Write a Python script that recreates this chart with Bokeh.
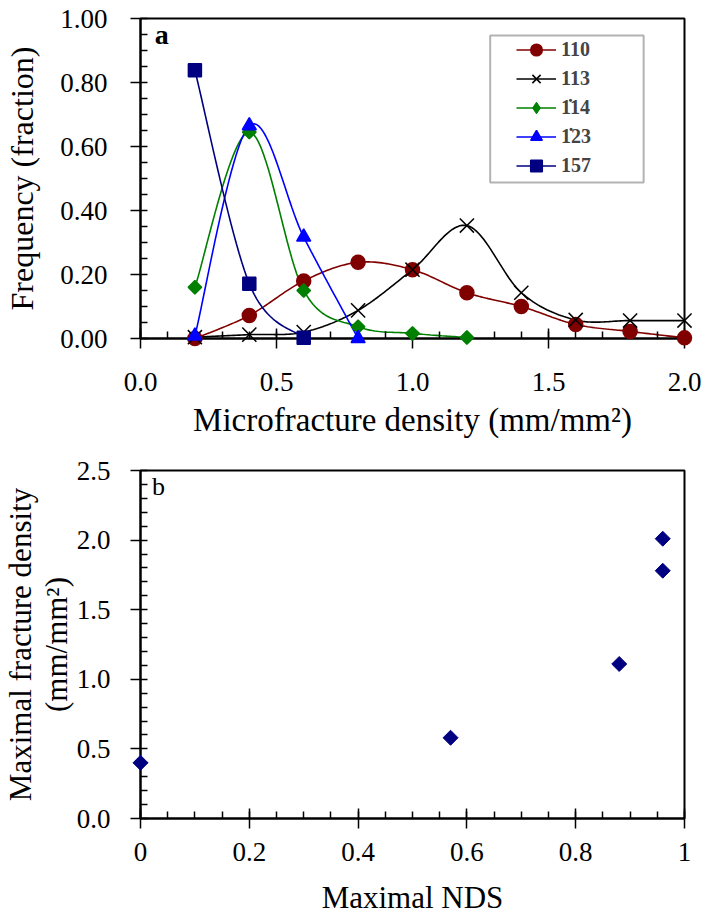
import numpy as np
from bokeh.plotting import figure
from bokeh.models import (FixedTicker, Legend, LegendItem, Label, Range1d,
                          BoxAnnotation)
from bokeh.layouts import column
from bokeh.embed import file_html
from bokeh.resources import INLINE

# ---------------- data: panel a ----------------
density = [0.2, 0.4, 0.6, 0.8, 1.0, 1.2, 1.4, 1.6, 1.8, 2.0]
freq_110 = [0.000, 0.072, 0.180, 0.238, 0.215, 0.143, 0.100, 0.044, 0.022, 0.002]
freq_113 = [0.004, 0.012, 0.020, 0.088, 0.215, 0.353, 0.143, 0.058, 0.056, 0.056]
density_114 = [0.2, 0.4, 0.6, 0.8, 1.0, 1.2]
freq_114 = [0.160, 0.645, 0.150, 0.037, 0.016, 0.003]
density_123 = [0.2, 0.4, 0.6, 0.8]
freq_123 = [0.008, 0.665, 0.317, 0.000]
density_157 = [0.2, 0.4, 0.6]
freq_157 = [0.838, 0.171, 0.002]
series_labels = ["110", "113", "1\u030714", "1\u030723", "157"]

# ---------------- data: panel b ----------------
max_nds = [0.00, 0.57, 0.88, 0.96, 0.96]
max_density = [0.40, 0.58, 1.11, 1.78, 2.01]

# ---------------- ticks ----------------
a_xticks = [0.0, 0.5, 1.0, 1.5, 2.0]
a_xlabels = ["0.0", "0.5", "1.0", "1.5", "2.0"]
a_yticks = [0.0, 0.2, 0.4, 0.6, 0.8, 1.0]
a_ylabels = ["0.00", "0.20", "0.40", "0.60", "0.80", "1.00"]
b_xticks = [0.0, 0.2, 0.4, 0.6, 0.8, 1.0]
b_xlabels = ["0", "0.2", "0.4", "0.6", "0.8", "1"]
b_yticks = [0.0, 0.5, 1.0, 1.5, 2.0, 2.5]
b_ylabels = ["0.0", "0.5", "1.0", "1.5", "2.0", "2.5"]

FONT = "Liberation Serif"


def minor(lo, hi, step):
    return [round(v, 4) for v in np.arange(lo, hi + step / 2, step)]


def smooth(xs, ys, n=24):
    """Catmull-Rom style Bezier smoothing through the data points."""
    P = np.column_stack([xs, ys]).astype(float)
    out = [P[0]]
    for i in range(len(P) - 1):
        p0 = P[i - 1] if i > 0 else P[i]
        p1, p2 = P[i], P[i + 1]
        p3 = P[i + 2] if i + 2 < len(P) else P[i + 1]
        c1 = p1 + (p2 - p0) / 6.0
        c2 = p2 - (p3 - p1) / 6.0
        t = np.linspace(0, 1, n)[1:, None]
        seg = ((1 - t) ** 3) * p1 + 3 * ((1 - t) ** 2) * t * c1 + 3 * (1 - t) * t ** 2 * c2 + t ** 3 * p2
        out.extend(seg)
    out = np.array(out)
    return out[:, 0], out[:, 1]


def style_axes(p, xt, xl, xminor, yt, yl, yminor, title_px):
    p.xaxis.ticker = FixedTicker(ticks=xt, minor_ticks=xminor)
    p.yaxis.ticker = FixedTicker(ticks=yt, minor_ticks=yminor)
    p.xaxis.major_label_overrides = {t: s for t, s in zip(xt, xl)}
    p.yaxis.major_label_overrides = {t: s for t, s in zip(yt, yl)}
    for ax in (p.xaxis, p.yaxis):
        ax.axis_line_width = 2
        ax.axis_line_color = "black"
        ax.major_tick_line_width = 1.5
        ax.minor_tick_line_width = 1.5
        ax.major_tick_line_color = "black"
        ax.minor_tick_line_color = "black"
        ax.major_label_text_font = FONT
        ax.major_label_text_font_size = "27px"
        ax.major_label_text_color = "black"
        ax.axis_label_text_font = FONT
        ax.axis_label_text_font_size = title_px
        ax.axis_label_text_font_style = "normal"
        ax.axis_label_text_color = "black"
        ax.minor_tick_in = 7
        ax.minor_tick_out = 0
    p.xaxis.major_tick_in = 10
    p.xaxis.major_tick_out = 10
    p.yaxis.major_tick_in = 0
    p.yaxis.major_tick_out = 10
    p.xgrid.visible = False
    p.ygrid.visible = False
    p.outline_line_color = "black"
    p.outline_line_width = 2
    p.background_fill_color = "white"
    p.border_fill_color = "white"


# ---------------- panel a ----------------
pa = figure(width=702, height=456, output_backend="svg", toolbar_location=None,
            x_range=Range1d(0, 2.0), y_range=Range1d(0, 1.0),
            min_border_left=138, min_border_right=18, min_border_top=18, min_border_bottom=118)
style_axes(pa, a_xticks, a_xlabels, minor(0, 2.0, 0.1), a_yticks, a_ylabels,
           minor(0, 1.0, 0.05), "32px")
pa.xaxis.axis_label = "Microfracture density (mm/mm\u00b2)"
pa.xaxis.axis_label_text_font_size = "33px"
pa.yaxis.axis_label = "Frequency (fraction)"
pa.xaxis.major_label_standoff = 24
pa.xaxis.axis_label_standoff = 8
pa.yaxis.major_label_standoff = 23
pa.yaxis.axis_label_standoff = 17

specs = [
    (density, freq_110, "#800000", "circle", 14, "circle"),
    (density, freq_113, "black", "x", 20, "x"),
    (density_114, freq_114, "#008000", "square", 9.5, "diamond"),
    (density_123, freq_123, "#0000ff", "triangle", 14, "triangle"),
    (density_157, freq_157, "#000080", "square", 13, "square"),
]
items = []
for (xs, ys, col, mk, sz, legend_mk), lab in zip(specs, series_labels):
    sx, sy = smooth(xs, ys)
    lr = pa.line(sx, sy, line_color=col, line_width=1.6)
    ang = np.pi / 4 if legend_mk == "diamond" else 0.0
    sr = pa.scatter(xs, ys, marker=mk, size=sz, angle=ang, fill_color=col, line_color=col,
                    line_width=1.5, level="overlay")
    if legend_mk == mk:
        items.append(LegendItem(label=lab, renderers=[lr, sr]))
    else:
        # key-only glyph (not drawn in the plot) so the legend shows a diamond
        kr = pa.scatter([np.nan], [np.nan], marker=legend_mk, size=sz, fill_color=col,
                        line_color=col)
        items.append(LegendItem(label=lab, renderers=[lr, kr]))

legend = Legend(items=items, location=(376, 158), padding=0, spacing=0,
                glyph_width=40, glyph_height=29, label_height=20, label_standoff=5,
                label_text_font=FONT, label_text_font_size="20px", label_text_font_style="bold",
                background_fill_alpha=0, border_line_alpha=0)
pa.add_layout(legend)
pa.add_layout(BoxAnnotation(left=1.2857, right=1.8498, top=0.947, bottom=0.4875,
                            fill_alpha=0, line_color="black", line_width=2))
pa.add_layout(Label(x=0.052, y=0.903, text="a", text_font=FONT, text_font_size="28px",
                    text_font_style="bold", text_color="black"))

# ---------------- panel b ----------------
pb = figure(width=702, height=461, output_backend="svg", toolbar_location=None,
            x_range=Range1d(0, 1.0), y_range=Range1d(0, 2.5),
            min_border_left=135, min_border_right=18, min_border_top=14, min_border_bottom=95)
style_axes(pb, b_xticks, b_xlabels, minor(0, 1.0, 0.05), b_yticks, b_ylabels,
           minor(0, 2.5, 0.1), "31px")
pb.xaxis.axis_label = "Maximal NDS"
pb.xaxis.major_label_standoff = 14
pb.xaxis.axis_label_standoff = 16
pb.yaxis.axis_label = "Maximal fracture density\n(mm/mm\u00b2)"
pb.yaxis.axis_label_text_line_height = 1.02
pb.yaxis.major_label_standoff = 20
pb.yaxis.axis_label_standoff = 0
pb.scatter(max_nds, max_density, marker="square", angle=np.pi / 4, size=10.6,
           fill_color="#000080", line_color="#000080", level="overlay")
pb.add_layout(Label(x=0.021, y=2.28, text="b", text_font=FONT, text_font_size="26px",
                    text_color="black"))

layout = column(pa, pb, spacing=0)
open("out.html", "w").write(file_html(layout, INLINE))
